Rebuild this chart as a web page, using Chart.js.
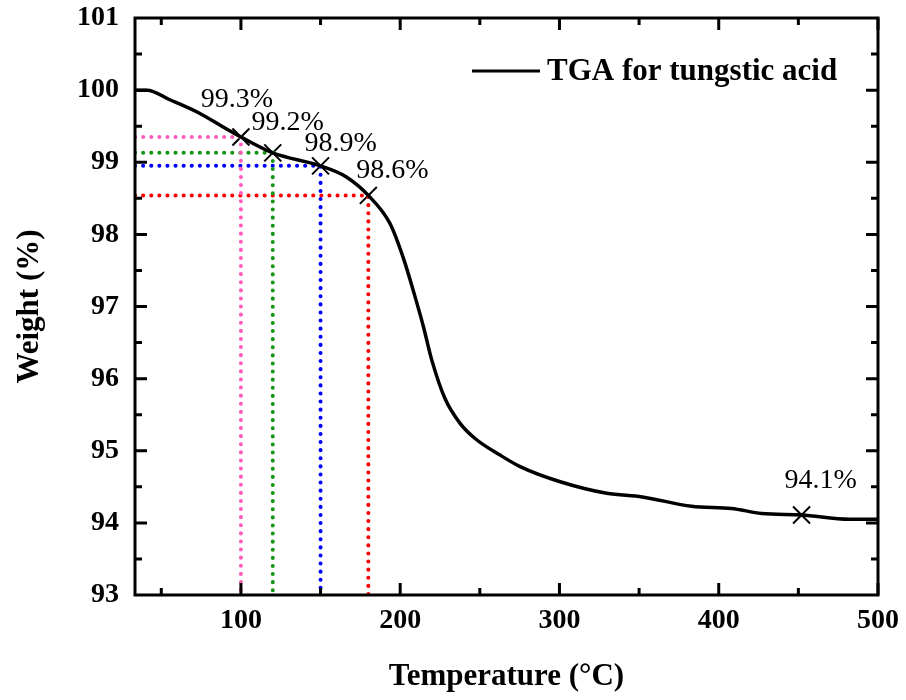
<!DOCTYPE html>
<html>
<head>
<meta charset="utf-8">
<script src="https://cdn.jsdelivr.net/npm/chart.js@4.4.1/dist/chart.umd.min.js"></script>
<style>
  body { margin: 0; background: #fff; }
  canvas { display: block; }
</style>
</head>
<body>
<canvas id="tgaCanvas" width="906" height="700"></canvas>
<script>
// TGA curve
const tempC = [33.5, 41, 55, 74, 88, 100, 120, 150, 166, 180, 193.6, 202, 209.4, 214.6, 219.8, 228.2, 237.6, 247, 262.7, 275.3, 300.5, 329.7, 352, 383, 408, 427, 452, 482, 500];
const weight = [100.0, 100.0, 99.87, 99.68, 99.5, 99.35, 99.13, 98.95, 98.8, 98.54, 98.15, 97.67, 97.13, 96.72, 96.26, 95.72, 95.38, 95.17, 94.94, 94.78, 94.57, 94.41, 94.36, 94.23, 94.2, 94.13, 94.11, 94.05, 94.05];

// marked points
const markT = [100, 120, 150, 180, 452];
const markW = [99.35, 99.13, 98.95, 98.54, 94.11];
const markLabels = ['99.3%', '99.2%', '98.9%', '98.6%', '94.1%'];
const guideColors = ['#ff5cbc', '#159515', '#0000ff', '#ff0000'];

// axes
const xMin = 33.5, xMax = 500;
const yMin = 93, yMax = 101;
const xTicks = [100, 200, 300, 400, 500];
const xMinorTicks = [50, 150, 250, 350, 450];

// label offsets (px) relative to each marker
const labelDx = [-4, 15, 20, 24, 19];
const labelDy = [-37, -30, -22, -25, -34];

const serif = "'Liberation Serif', 'Times New Roman', serif";

const guideSets = guideColors.map((c, i) => ({
    data: [{x: xMin, y: markW[i]}, {x: markT[i], y: markW[i]}, {x: markT[i], y: yMin}],
    borderColor: c,
    borderWidth: 4,
    borderDash: [0.1, 8],
    borderCapStyle: 'round',
    pointRadius: 0,
    fill: false,
    tension: 0
}));

const frameTicks = {
    id: 'frameTicks',
    afterDatasetsDraw(chart) {
        const {ctx, chartArea: a, scales: {x, y}} = chart;
        ctx.save();
        ctx.strokeStyle = '#000';
        ctx.lineWidth = 3;
        ctx.lineCap = 'butt';
        ctx.strokeRect(a.left, a.top, a.right - a.left, a.bottom - a.top);
        ctx.beginPath();
        xTicks.concat(xMinorTicks).forEach(v => {
            const len = xTicks.includes(v) ? 12 : 7;
            const px = x.getPixelForValue(v);
            ctx.moveTo(px, a.bottom); ctx.lineTo(px, a.bottom - len);
            ctx.moveTo(px, a.top); ctx.lineTo(px, a.top + len);
        });
        for (let v = yMin + 0.5; v < yMax; v += 0.5) {
            const len = Number.isInteger(v) ? 12 : 7;
            const py = y.getPixelForValue(v);
            ctx.moveTo(a.left, py); ctx.lineTo(a.left + len, py);
            ctx.moveTo(a.right, py); ctx.lineTo(a.right - len, py);
        }
        ctx.stroke();

        // point labels
        const meta = chart.getDatasetMeta(chart.data.datasets.length - 1);
        ctx.fillStyle = '#000';
        ctx.font = '28px ' + serif;
        ctx.textAlign = 'center';
        ctx.textBaseline = 'middle';
        meta.data.forEach((pt, i) => {
            ctx.fillText(markLabels[i], pt.x + labelDx[i], pt.y + labelDy[i]);
        });

        // legend
        const lx = a.right - 406, ly = a.top + 53;
        ctx.beginPath();
        ctx.moveTo(lx, ly); ctx.lineTo(lx + 68, ly);
        ctx.stroke();
        ctx.font = 'bold 31px ' + serif;
        ctx.textAlign = 'left';
        ctx.fillText(chart.data.datasets[0].label, lx + 75, ly + 1);
        ctx.restore();
    }
};

new Chart(document.getElementById('tgaCanvas').getContext('2d'), {
    type: 'line',
    data: {
        datasets: [{
            label: 'TGA for tungstic acid',
            data: tempC.map((t, i) => ({x: t, y: weight[i]})),
            borderColor: '#000',
            borderWidth: 3.5,
            pointRadius: 0,
            cubicInterpolationMode: 'monotone',
            fill: false
        }, ...guideSets, {
            type: 'scatter',
            data: markT.map((t, i) => ({x: t, y: markW[i]})),
            pointStyle: 'crossRot',
            pointRadius: 12,
            borderColor: '#000',
            borderWidth: 2,
            showLine: false
        }]
    },
    options: {
        responsive: false,
        devicePixelRatio: 1,
        animation: false,
        layout: { padding: { top: 18, right: 28, left: 0, bottom: 0 } },
        plugins: {
            legend: { display: false },
            tooltip: { enabled: false }
        },
        scales: {
            x: {
                type: 'linear',
                min: xMin,
                max: xMax,
                afterBuildTicks: s => { s.ticks = xTicks.map(v => ({value: v})); },
                afterFit: s => { s.height = 105; s.paddingLeft = 0; s.paddingRight = 0; },
                grid: { display: false, drawTicks: false },
                border: { display: false },
                ticks: { color: '#000', font: { family: serif, size: 28, weight: 'bold' }, padding: 9, maxRotation: 0 },
                title: { display: true, text: 'Temperature (°C)', color: '#000', font: { family: serif, size: 31, weight: 'bold' }, padding: { top: 0, bottom: 4 } }
            },
            y: {
                min: yMin,
                max: yMax,
                afterFit: s => { s.width = 135; s.paddingTop = 0; s.paddingBottom = 0; },
                grid: { display: false, drawTicks: false },
                border: { display: false },
                ticks: { stepSize: 1, color: '#000', font: { family: serif, size: 28, weight: 'bold' }, padding: 16 },
                title: { display: true, text: 'Weight (%)', color: '#000', font: { family: serif, size: 31, weight: 'bold' }, padding: { top: 11, bottom: 0 } }
            }
        }
    },
    plugins: [frameTicks]
});
</script>
</body>
</html>
